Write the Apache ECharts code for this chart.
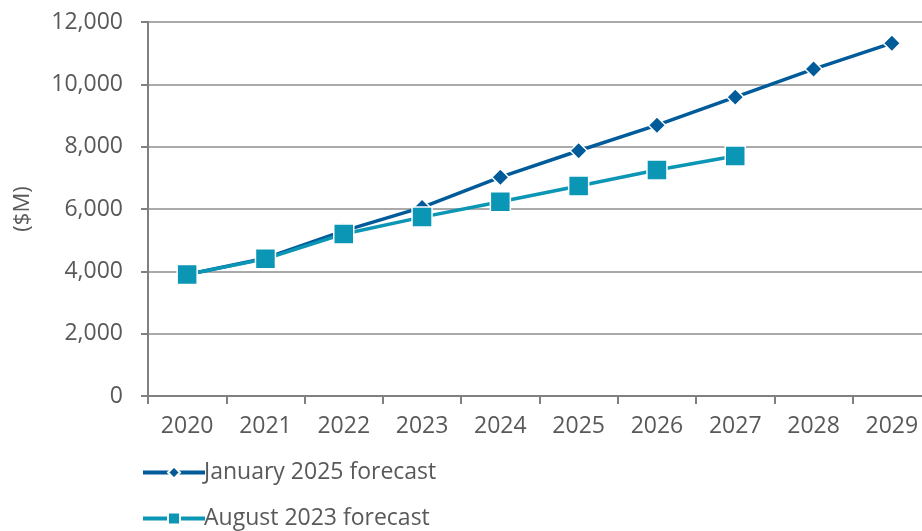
<!DOCTYPE html>
<html><head><meta charset="utf-8">
<script src="https://cdn.jsdelivr.net/npm/echarts@6/dist/echarts.min.js"></script>
<style>html,body{margin:0;padding:0;background:#fff}#c{width:922px;height:531px}</style>
</head><body><div id="c"></div>
<script>
const categories = ['2020','2021','2022','2023','2024','2025','2026','2027','2028','2029'];
const jan2025 = [3900, 4420, 5300, 6050, 7020, 7870, 8690, 9590, 10490, 11320];
const aug2023 = [3900, 4400, 5200, 5740, 6230, 6740, 7250, 7700, null, null];
const yTicks = [0, 2000, 4000, 6000, 8000, 10000, 12000];
const txt = '#595959';
const font = 'Open Sans';
const chart = echarts.init(document.getElementById('c'));
chart.setOption({
  animation: false,
  grid: {left: 148, top: 22, right: -9, bottom: 135, outerBoundsMode: 'none', containLabel: false},
  legend: {
    orient: 'vertical', left: 136, top: 456, height: 120, itemGap: 23,
    itemWidth: 62, itemHeight: 15,
    lineStyle: {width: 4},
    itemStyle: {borderColor: '#fff', borderWidth: 2},
    textStyle: {color: txt, fontSize: 23, fontFamily: font, padding: [0,0,0,-6]},
    data: ['January 2025 forecast', 'August 2023 forecast']
  },
  xAxis: {
    type: 'category', data: categories, boundaryGap: true,
    axisLine: {lineStyle: {color: '#808080', width: 2}},
    axisTick: {show: true, length: 8, alignWithLabel: false, lineStyle: {color: '#808080', width: 2}},
    axisLabel: {color: txt, fontSize: 23, fontFamily: font, margin: 19}
  },
  yAxis: {
    type: 'value', min: yTicks[0], max: yTicks[yTicks.length-1], interval: 2000,
    name: '($M)', nameLocation: 'middle', nameGap: 114, nameRotate: 90,
    nameTextStyle: {color: txt, fontSize: 22, fontFamily: font},
    axisLine: {show: true, lineStyle: {color: '#808080', width: 2}},
    axisTick: {show: true, length: 7, lineStyle: {color: '#808080', width: 2}},
    splitLine: {lineStyle: {color: '#aaaaaa', width: 2}},
    axisLabel: {color: txt, fontSize: 23, fontFamily: font, margin: 25,
      formatter: v => v.toLocaleString('en-US')}
  },
  series: [
    {name: 'January 2025 forecast', type: 'line', data: jan2025,
     symbol: 'diamond', symbolSize: 17,
     itemStyle: {color: '#005b9a', borderColor: '#fff', borderWidth: 1.5},
     lineStyle: {color: '#005b9a', width: 3.5}},
    {name: 'August 2023 forecast', type: 'line', data: aug2023,
     symbol: 'rect', symbolSize: 20,
     itemStyle: {color: '#0a96b4', borderColor: '#fff', borderWidth: 1.5},
     lineStyle: {color: '#0a96b4', width: 3.5}}
  ]
});
</script></body></html>
